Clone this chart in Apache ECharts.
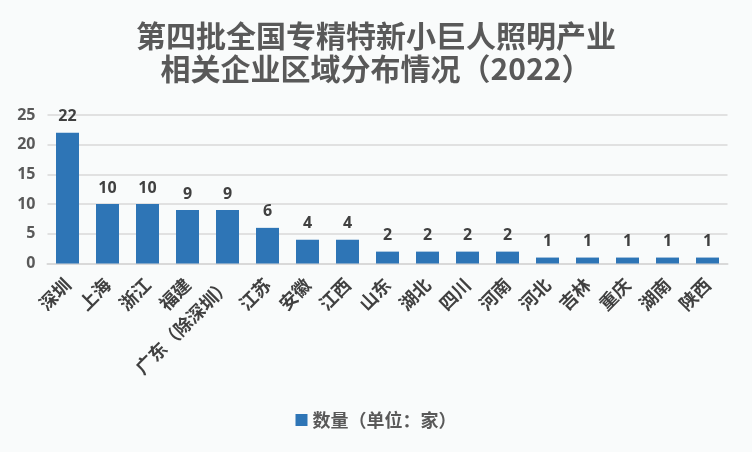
<!DOCTYPE html>
<html><head><meta charset="utf-8">
<script src="https://cdn.jsdelivr.net/npm/echarts@6/dist/echarts.min.js"></script>
<style>html,body{margin:0;padding:0;background:#f9fbfb}#c{width:752px;height:452px}</style>
</head><body><div id="c"></div>
<script>
const categories = ['深圳','上海','浙江','福建','广东（除深圳）','江苏','安徽','江西','山东','湖北','四川','河南','河北','吉林','重庆','湖南','陕西'];
const values = [22,10,10,9,9,6,4,4,2,2,2,2,1,1,1,1,1];
const yTicks = [0,5,10,15,20,25];
const seriesName = '数量（单位：家）';
const titleText = '第四批全国专精特新小巨人照明产业\n相关企业区域分布情况（2022）';

const chart = echarts.init(document.getElementById('c'), null, {renderer:'canvas'});
chart.setOption({
  backgroundColor:'#f9fbfb',
  animation:false,
  title:{text:titleText,left:'center',top:14,textStyle:{fontFamily:'Noto Sans CJK SC',fontSize:30,fontWeight:'bold',color:'#595959',lineHeight:33}},
  grid:{left:47.5,right:24.5,top:115,bottom:188.5,containLabel:false},
  legend:{bottom:18,left:'center',itemWidth:12,itemHeight:12,itemGap:8,icon:'rect',textStyle:{fontFamily:'Noto Sans CJK SC',fontSize:18,fontWeight:'bold',color:'#595959'},data:[seriesName]},
  xAxis:{type:'category',data:categories,axisLine:{lineStyle:{color:'#d9d9d9',width:2}},axisTick:{show:false},
    axisLabel:{rotate:45,interval:0,fontFamily:'Noto Sans CJK SC',fontSize:18,fontWeight:'bold',color:'#404040',margin:18}},
  yAxis:{type:'value',min:yTicks[0],max:yTicks[yTicks.length-1],interval:5,axisLine:{show:false},axisTick:{show:false},
    splitLine:{lineStyle:{color:'#d9d9d9',width:1.5}},
    axisLabel:{fontFamily:'Open Sans',fontSize:16,fontWeight:'bold',color:'#595959',margin:12}},
  series:[{name:seriesName,type:'bar',data:values,barWidth:23,itemStyle:{color:'#2e75b6'},
    label:{show:true,position:'top',distance:8,fontFamily:'Open Sans',fontSize:16,fontWeight:'bold',color:'#404040'}}]
});
</script></body></html>
